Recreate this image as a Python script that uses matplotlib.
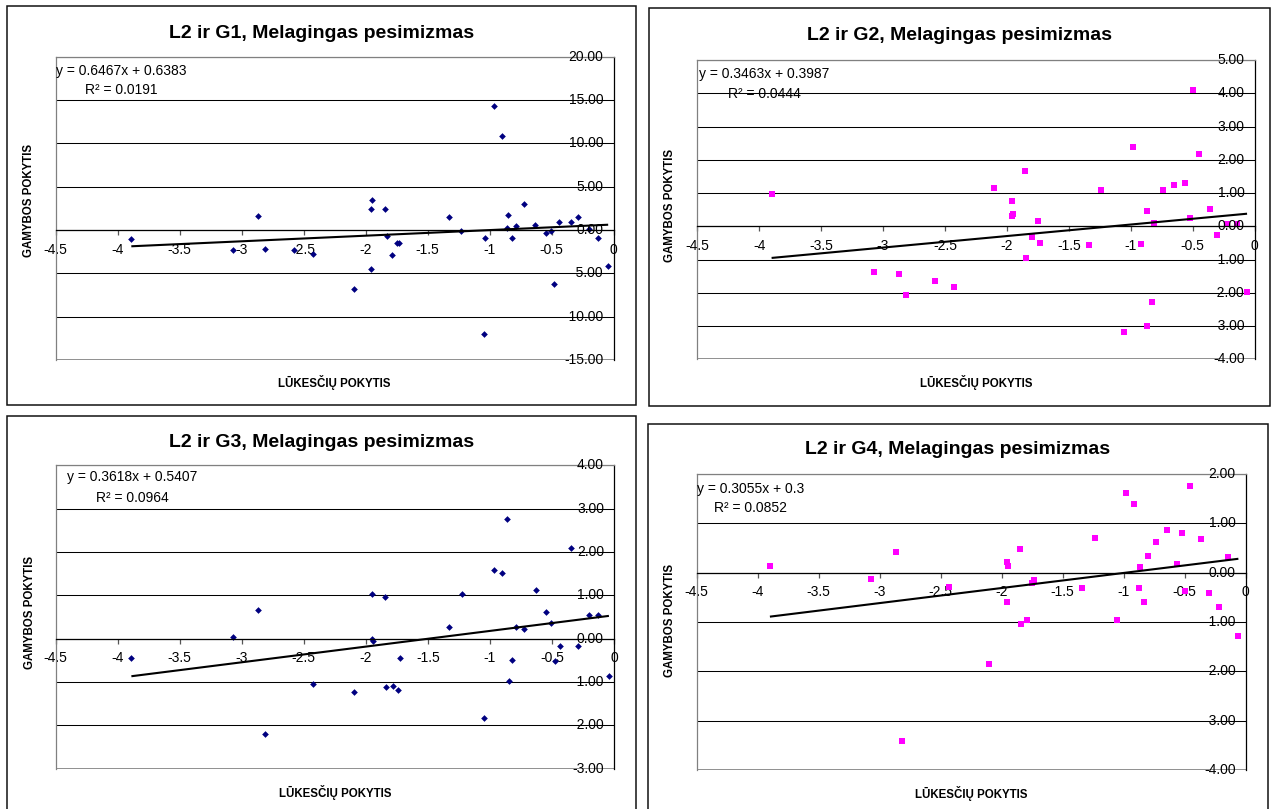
#!/usr/bin/env python3
# four scatter panels with linear trend lines (L2 vs G1..G4)

import numpy as np
import matplotlib.pyplot as plt
from matplotlib.patches import Rectangle
from matplotlib.ticker import FuncFormatter
from matplotlib.transforms import offset_copy

plt.rcParams["font.family"] = ["Liberation Sans", "DejaVu Sans"]
plt.rcParams["axes.unicode_minus"] = False

W, H = 1271, 809

# ---- data ----
TITLES = [
    "L2 ir G1, Melagingas pesimizmas",
    "L2 ir G2, Melagingas pesimizmas",
    "L2 ir G3, Melagingas pesimizmas",
    "L2 ir G4, Melagingas pesimizmas",
]
SLOPES = [0.6467, 0.3463, 0.3618, 0.3055]
INTERCEPTS = [0.6383, 0.3987, 0.5407, 0.3]
EQ_TEXT = ["y = 0.6467x + 0.6383", "y = 0.3463x + 0.3987",
           "y = 0.3618x + 0.5407", "y = 0.3055x + 0.3"]
R2_TEXT = ["0.0191", "0.0444", "0.0964", "0.0852"]

X_TICKS = [-4.5, -4, -3.5, -3, -2.5, -2, -1.5, -1, -0.5, 0]
Y_TICKS = [
    [-15, -10, -5, 0, 5, 10, 15, 20],
    [-4, -3, -2, -1, 0, 1, 2, 3, 4, 5],
    [-3, -2, -1, 0, 1, 2, 3, 4],
    [-4, -3, -2, -1, 0, 1, 2],
]

G1_X = [-3.89, -3.067, -2.866, -2.813, -2.575, -2.425, -2.097, -1.946, -1.954, -1.954,
        -1.843, -1.83, -1.784, -1.743, -1.727, -1.33, -1.227, -1.046, -1.035, -0.968,
        -0.90, -0.859, -0.849, -0.816, -0.789, -0.724, -0.63, -0.546, -0.505, -0.478,
        -0.438, -0.346, -0.289, -0.20, -0.127, -0.043]
G1_Y = [-1.04, -2.31, 1.62, -2.23, -2.31, -2.81, -6.85, 3.46, 2.38, -4.46,
        2.38, -0.73, -2.88, -1.46, -1.46, 1.54, -0.15, -12.0, -0.96, 14.35,
        10.88, 0.23, 1.77, -0.88, 0.50, 2.96, 0.62, -0.38, -0.12, -6.27,
        0.96, 0.96, 1.54, 0.08, -0.96, -4.19]

G2_X = [-3.90, -3.073, -2.871, -2.817, -2.578, -2.427, -2.10, -1.96, -1.96, -1.949,
        -1.852, -1.844, -1.793, -1.75, -1.733, -1.34, -1.238, -1.055, -0.98, -0.915,
        -0.872, -0.867, -0.83, -0.808, -0.738, -0.649, -0.565, -0.52, -0.495, -0.452,
        -0.36, -0.30, -0.22, -0.145, -0.06]
G2_Y = [0.97, -1.37, -1.45, -2.07, -1.65, -1.83, 1.16, 0.76, 0.30, 0.36,
        1.66, -0.95, -0.32, 0.16, -0.49, -0.57, 1.10, -3.17, 2.38, -0.52,
        -3.01, 0.45, -2.29, 0.09, 1.10, 1.23, 1.29, 0.26, 4.10, 2.16,
        0.51, -0.26, 0.08, 0.06, -1.98]

G3_X = [-3.89, -3.067, -2.866, -2.813, -2.425, -2.097, -1.954, -1.954, -1.946, -1.843,
        -1.838, -1.784, -1.743, -1.727, -1.33, -1.227, -1.046, -0.97, -0.903, -0.859,
        -0.849, -0.819, -0.792, -0.724, -0.632, -0.549, -0.508, -0.478, -0.438, -0.346,
        -0.289, -0.203, -0.127, -0.041]
G3_Y = [-0.44, 0.03, 0.65, -2.20, -1.05, -1.24, 1.02, -0.01, -0.06, 0.95,
        -1.12, -1.10, -1.18, -0.44, 0.28, 1.02, -1.84, 1.58, 1.52, 2.77,
        -0.98, -0.49, 0.28, 0.22, 1.12, 0.62, 0.37, -0.52, -0.18, 2.10,
        -0.18, 0.55, 0.55, -0.85]

G4_X = [-3.90, -3.071, -2.869, -2.82, -2.429, -2.101, -1.959, -1.951, -1.959, -1.85,
        -1.842, -1.792, -1.751, -1.732, -1.342, -1.238, -1.055, -0.981, -0.915, -0.874,
        -0.863, -0.83, -0.803, -0.738, -0.645, -0.563, -0.519, -0.495, -0.454, -0.363,
        -0.303, -0.219, -0.145, -0.06]
G4_Y = [0.14, -0.13, 0.41, -3.42, -0.30, -1.86, 0.21, 0.13, -0.59, 0.48,
        -1.04, -0.95, -0.20, -0.14, -0.31, 0.70, -0.95, 1.61, 1.39, -0.31,
        0.11, -0.59, 0.33, 0.62, 0.87, 0.18, 0.80, -0.37, 1.76, 0.68,
        -0.41, -0.70, 0.31, -1.28]

XS = [G1_X, G2_X, G3_X, G4_X]
YS = [G1_Y, G2_Y, G3_Y, G4_Y]

# ---- layout in pixels (x0, y0, x1, y1), y from the top ----
BORDERS = [(6.5, 6, 636, 405), (648.5, 7.5, 1270, 406),
           (6.5, 416, 636, 840), (647.5, 424, 1267.5, 840)]
PLOTS = [(55.7, 56.7, 613.5, 360), (697.3, 60, 1254.5, 359.3),
         (55.7, 465.3, 614, 768.7), (696.7, 474, 1245.7, 770)]
TITLE_Y = [34, 35, 443, 450]
EQ_POS = [(121, 71, 90), (764, 74, 93.5), (132, 477.5, 498), (750.5, 489, 508)]
XLABEL_Y = [383, 382.7, 792, 793.3]
YLABEL_POS = [(28.7, 200), (670, 205), (30, 612), (670, 620)]

MARKERS = ["D", "s", "D", "s"]
COLORS = ["#000080", "#FF00FF", "#000080", "#FF00FF"]
MSIZES = [3.4, 4.2, 3.4, 4.2]


def fx(px):
    return px / W


def fy(py):
    return 1 - py / H


fig = plt.figure(figsize=(W / 100, H / 100), dpi=100)
fig.patch.set_facecolor("white")

for i in range(4):
    bx0, by0, bx1, by1 = BORDERS[i]
    fig.add_artist(Rectangle((fx(bx0), fy(by1)), fx(bx1 - bx0), (by1 - by0) / H,
                             transform=fig.transFigure, fill=False,
                             edgecolor="#111111", lw=1.1))

    px0, py0, px1, py1 = PLOTS[i]
    ax = fig.add_axes([fx(px0), fy(py1), fx(px1 - px0), (py1 - py0) / H])
    yt = Y_TICKS[i]
    ax.set_xlim(-4.5, 0)
    ax.set_ylim(yt[0], yt[-1])

    # plot area frame: grey left/top/bottom, black y axis at x = 0
    for side in ("left", "top"):
        ax.spines[side].set_color("#808080")
        ax.spines[side].set_linewidth(0.9)
    ax.spines["right"].set_color("black")
    ax.spines["right"].set_linewidth(0.9)
    ax.spines["bottom"].set_position(("data", 0))
    ax.spines["bottom"].set_color("black")
    ax.spines["bottom"].set_linewidth(0.9)
    ax.axhline(yt[0], color="#808080", lw=1.2, zorder=0.5)

    ax.set_xticks(X_TICKS)
    ax.xaxis.set_major_formatter(FuncFormatter(lambda v, p: f"{v:g}"))
    ax.tick_params(axis="x", direction="out", length=3.6, width=0.9,
                   color="#555555", pad=5.5, labelsize=10)

    ax.set_yticks(yt)
    ax.tick_params(axis="y", length=0, labelleft=False)
    ax.yaxis.grid(True, color="black", lw=0.75)
    ax.set_axisbelow(True)

    lab_tr = offset_copy(ax.transData, fig=fig, x=-10, y=0, units="dots")
    for v in yt:
        ax.text(0, v, f"{v:.2f}", transform=lab_tr, ha="right", va="center",
                fontsize=10, zorder=4)

    x = np.array(XS[i])
    y = np.array(YS[i])
    ax.plot(x, y, linestyle="none", marker=MARKERS[i], color=COLORS[i],
            markersize=MSIZES[i], markeredgewidth=0, zorder=2)

    xl = np.array([x.min(), x.max()])
    ax.plot(xl, SLOPES[i] * xl + INTERCEPTS[i], color="black", lw=1.5,
            solid_capstyle="butt", zorder=3)

    # titles and labels
    fig.text(fx((bx0 + bx1) / 2), fy(TITLE_Y[i]), TITLES[i], ha="center",
             va="center", fontsize=14, fontweight="bold")
    fig.text(fx((px0 + px1) / 2), fy(XLABEL_Y[i]), "LŪKESČIŲ POKYTIS",
             ha="center", va="center", fontsize=8.3, fontweight="bold")
    fig.text(fx(YLABEL_POS[i][0]), fy(YLABEL_POS[i][1]), "GAMYBOS POKYTIS",
             ha="center", va="center", rotation=90, fontsize=8.3,
             fontweight="bold")

    ex, ey1, ey2 = EQ_POS[i]
    fig.text(fx(ex), fy(ey1), EQ_TEXT[i], ha="center", va="center", fontsize=10)
    fig.text(fx(ex), fy(ey2), "R² = " + R2_TEXT[i], ha="center", va="center",
             fontsize=10)

fig.savefig("out.png", dpi=100)
